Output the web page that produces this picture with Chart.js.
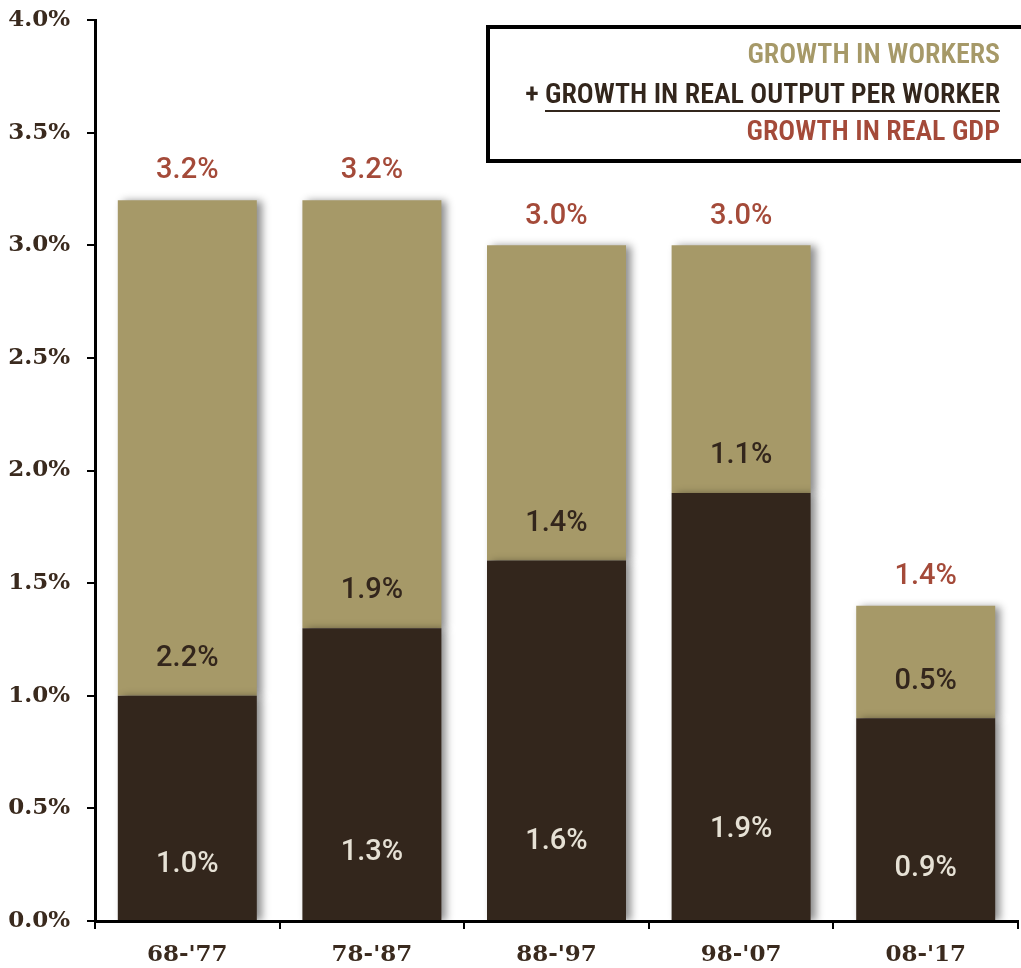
<!DOCTYPE html>
<html>
<head>
<meta charset="utf-8">
<script src="https://cdn.jsdelivr.net/npm/chart.js@4.4.1/dist/chart.umd.min.js"></script>
<style>
  html, body { margin: 0; padding: 0; background: #fff; }
  #wrap { position: relative; width: 1021px; height: 968px; overflow: hidden; }
  #key {
    position: absolute; left: 486px; top: 25px; width: 560px; height: 130px;
    border: 4px solid #000; box-sizing: content-box;
  }
  .kl {
    position: absolute; right: 21px; white-space: nowrap;
    font-family: "Roboto Condensed", "Liberation Sans Narrow", "DejaVu Sans Condensed", sans-serif;
    font-size: 28px; font-weight: 600; line-height: 30px;
  }
  .kl u { text-decoration: none; border-bottom: 2px solid #33261c; }
</style>
</head>
<body>
<div id="wrap">
  <canvas id="growth" width="1021" height="968"></canvas>
  <div id="key"></div>
  <div class="kl" style="top:39px;color:#a69968">GROWTH IN WORKERS</div>
  <div class="kl" style="top:79px;color:#33261c">+ <u>GROWTH IN REAL OUTPUT PER WORKER</u></div>
  <div class="kl" style="top:116px;color:#a44a39">GROWTH IN REAL GDP</div>
</div>
<script>
var periods = ["68-'77", "78-'87", "88-'97", "98-'07", "08-'17"];
var outputPerWorker = [1.0, 1.3, 1.6, 1.9, 0.9];
var workers = [2.2, 1.9, 1.4, 1.1, 0.5];
var realGdp = [3.2, 3.2, 3.0, 3.0, 1.4];

var DARK = '#33261c';
var TAN = '#a69968';
var RUST = '#a44a39';
var LABEL_FONT = '500 29px Roboto, "Liberation Sans", sans-serif';

// soft shadow to the right of each bar
var barShadow = {
    id: 'barShadow',
    beforeDatasetDraw: function(chart) {
        var ctx = chart.ctx;
        ctx.save();
        ctx.shadowColor = 'rgba(0, 0, 0, 0.45)';
        ctx.shadowBlur = 8;
        ctx.shadowOffsetX = 5;
        ctx.shadowOffsetY = 1;
    },
    afterDatasetDraw: function(chart) {
        chart.ctx.restore();
    }
};

// value labels inside the segments and totals above the bars
var barLabels = {
    id: 'barLabels',
    afterDatasetsDraw: function(chart) {
        var ctx = chart.ctx;
        var y = chart.scales.y;
        var lower = chart.getDatasetMeta(0).data;
        var upper = chart.getDatasetMeta(1).data;
        var base = y.getPixelForValue(0);
        ctx.save();
        ctx.textAlign = 'center';
        ctx.textBaseline = 'middle';
        ctx.font = LABEL_FONT;
        for (var i = 0; i < periods.length; i++) {
            var x = lower[i].x;
            var mid = y.getPixelForValue(outputPerWorker[i]);
            var top = y.getPixelForValue(outputPerWorker[i] + workers[i]);
            ctx.fillStyle = '#e6e1d5';
            ctx.fillText(outputPerWorker[i].toFixed(1) + '%', x, base - (base - mid) * 0.17 - 18);
            ctx.fillStyle = DARK;
            ctx.fillText(workers[i].toFixed(1) + '%', x, mid - 37);
            ctx.fillStyle = RUST;
            ctx.fillText(realGdp[i].toFixed(1) + '%', upper[i].x, top - 29);
        }
        ctx.restore();
    }
};

var ctx = document.getElementById('growth');
var myChart = new Chart(ctx, {
    type: 'bar',
    data: {
        labels: periods,
        datasets: [{
            label: 'Growth in real output per worker',
            data: outputPerWorker,
            backgroundColor: DARK,
            categoryPercentage: 1,
            barPercentage: 0.753
        }, {
            label: 'Growth in workers',
            data: workers,
            backgroundColor: TAN,
            categoryPercentage: 1,
            barPercentage: 0.753
        }]
    },
    options: {
        responsive: false,
        animation: false,
        layout: { padding: { top: 20, right: 3, left: 0, bottom: 0 } },
        plugins: {
            legend: { display: false },
            tooltip: { enabled: false }
        },
        scales: {
            x: {
                stacked: true,
                afterFit: function(scale) { scale.height = 47; },
                grid: { offset: true, drawOnChartArea: false, tickLength: 8, color: '#000', lineWidth: 2 },
                border: { display: true, color: '#000', width: 3 },
                ticks: {
                    color: '#3a2a1e',
                    padding: 12,
                    font: { family: '"DejaVu Serif", serif', weight: 'bold', size: 23 }
                }
            },
            y: {
                stacked: true,
                min: 0,
                max: 4,
                afterFit: function(scale) {
                    scale.width = 95;
                    scale.paddingTop = 0;
                    scale.paddingBottom = 0;
                },
                grid: { drawOnChartArea: false, tickLength: 8, color: '#000', lineWidth: 2 },
                border: { display: true, color: '#000', width: 3 },
                ticks: {
                    stepSize: 0.5,
                    color: '#3a2a1e',
                    padding: 17,
                    font: { family: '"DejaVu Serif", serif', weight: 'bold', size: 23 },
                    callback: function(value) { return value.toFixed(1) + '%'; }
                }
            }
        }
    },
    plugins: [barShadow, barLabels]
});
</script>
</body>
</html>
